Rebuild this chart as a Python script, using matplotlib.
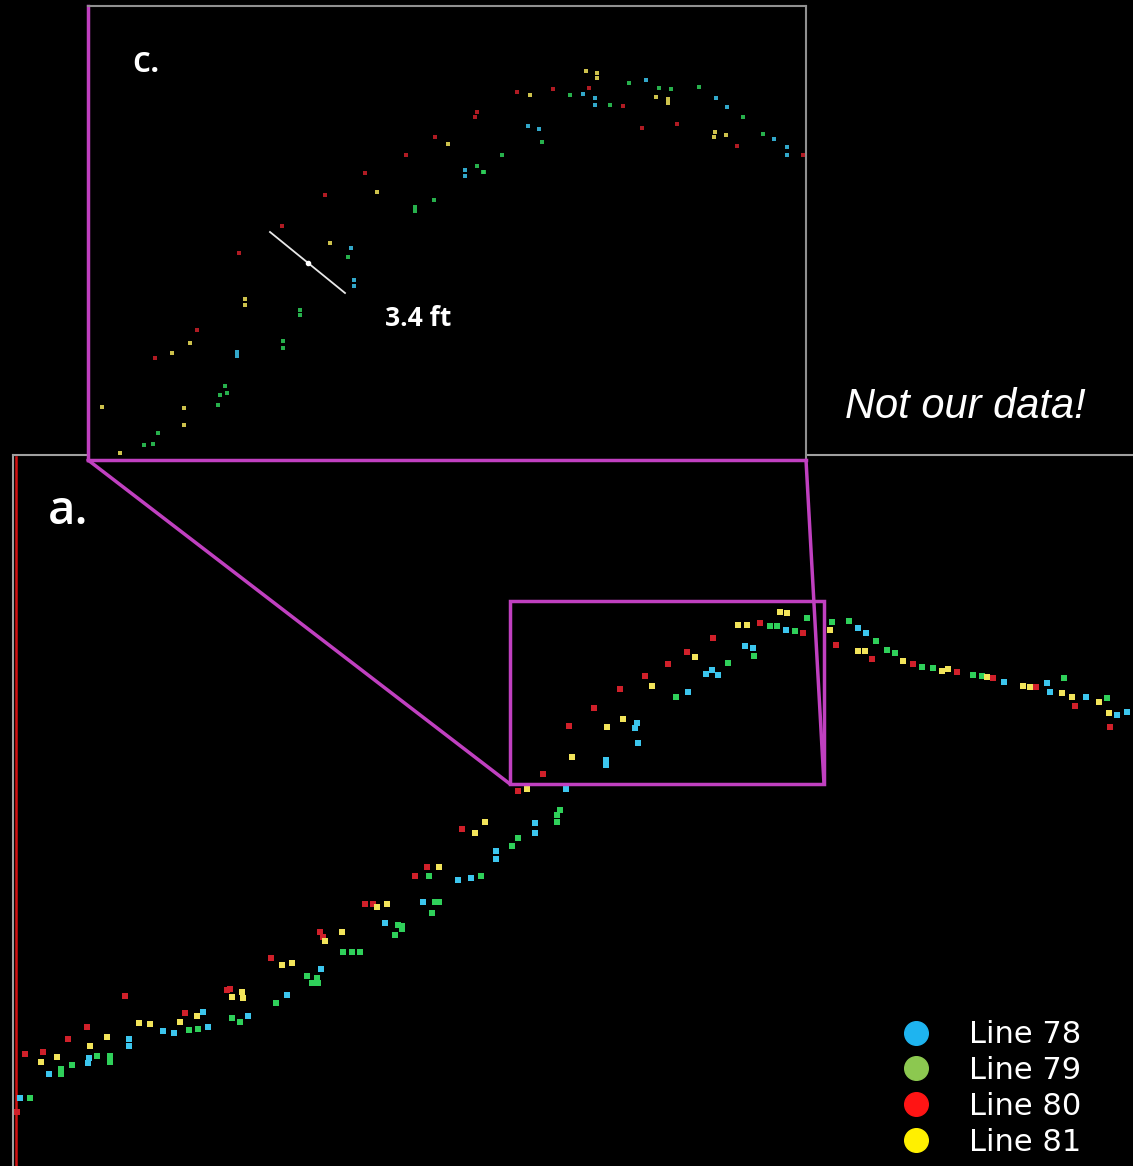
import matplotlib.pyplot as plt
from matplotlib.lines import Line2D
from matplotlib.patches import Rectangle, ConnectionPatch

# survey lines, points (x along track, y down)
lines = ['Line 78', 'Line 79', 'Line 80', 'Line 81']
dot_colors = ['#3cc6ee', '#2fd05a', '#d0202a', '#f2e45a']
legend_colors = ['#1eb4f0', '#8cc850', '#ff1414', '#fff000']

# panel a
a_78 = [(20, 1098), (49, 1074), (89, 1058), (88, 1063), (129, 1039), (129, 1046), (163, 1031),
        (174, 1033), (208, 1027), (203, 1012), (248, 1016), (287, 995), (321, 969), (385, 923),
        (423, 902), (458, 880), (471, 878), (496, 851), (496, 859), (535, 823), (535, 833),
        (566, 789), (606, 760), (606, 765), (637, 723), (635, 728), (638, 743), (688, 692),
        (706, 674), (712, 670), (718, 675), (745, 646), (753, 648), (786, 630), (858, 628),
        (866, 633), (1004, 682), (1047, 683), (1050, 692), (1086, 697), (1117, 715), (1127, 712)]
a_79 = [(30, 1098), (61, 1069), (61, 1074), (72, 1065), (97, 1056), (110, 1056), (110, 1062),
        (189, 1030), (198, 1029), (232, 1018), (240, 1022), (276, 1003), (307, 976), (312, 983),
        (318, 983), (317, 978), (343, 952), (352, 952), (360, 952), (395, 935), (398, 925),
        (402, 926), (402, 929), (432, 913), (435, 902), (439, 902), (429, 876), (481, 876),
        (512, 846), (518, 838), (557, 815), (560, 810), (557, 822), (676, 697), (728, 663),
        (754, 656), (770, 626), (777, 626), (795, 631), (807, 618), (832, 622), (849, 621),
        (876, 641), (887, 650), (895, 653), (922, 667), (933, 668), (973, 675), (982, 676),
        (1064, 678), (1107, 698)]
a_80 = [(17, 1112), (25, 1054), (43, 1052), (68, 1039), (87, 1027), (125, 996), (185, 1013),
        (227, 990), (230, 989), (271, 958), (320, 932), (323, 937), (365, 904), (373, 904),
        (415, 876), (427, 867), (462, 829), (518, 791), (543, 774), (569, 726), (594, 708),
        (620, 689), (645, 676), (668, 664), (687, 652), (713, 638), (760, 623), (803, 633),
        (836, 645), (872, 659), (913, 664), (957, 672), (993, 678), (1036, 687), (1075, 706),
        (1110, 727)]
a_81 = [(41, 1062), (57, 1057), (90, 1046), (107, 1037), (139, 1023), (150, 1024), (180, 1022),
        (197, 1016), (232, 997), (242, 992), (243, 998), (282, 965), (292, 963), (325, 941),
        (342, 932), (377, 907), (387, 904), (439, 867), (475, 833), (485, 822), (527, 789),
        (572, 757), (607, 727), (623, 719), (652, 686), (695, 657), (738, 625), (747, 625),
        (780, 612), (787, 613), (830, 630), (858, 651), (865, 651), (903, 661), (942, 671),
        (948, 669), (987, 677), (1023, 686), (1030, 687), (1062, 693), (1072, 697), (1099, 702),
        (1109, 713)]

# panel c (zoomed view, other data)
c_78 = [(465, 170), (465, 176), (351, 248), (354, 280), (354, 286), (237, 352), (237, 356),
        (583, 94), (595, 98), (595, 105), (646, 80), (716, 98), (727, 107), (528, 126), (539, 129),
        (774, 139), (787, 147), (787, 155)]
c_79 = [(477, 166), (483, 172), (415, 207), (415, 211), (434, 200), (348, 257), (300, 310),
        (300, 315), (283, 341), (283, 348), (225, 386), (220, 395), (227, 393), (218, 405),
        (158, 433), (144, 445), (153, 444), (570, 95), (610, 105), (629, 83), (659, 88), (671, 89),
        (699, 87), (743, 117), (542, 142), (502, 155), (484, 172), (763, 134)]
c_80 = [(477, 112), (475, 117), (435, 137), (406, 155), (365, 173), (325, 195), (282, 226),
        (239, 253), (197, 330), (155, 358), (517, 92), (553, 89), (589, 88), (623, 106),
        (677, 124), (642, 128), (737, 146), (803, 155)]
c_81 = [(448, 144), (377, 192), (330, 243), (245, 299), (245, 305), (190, 343), (172, 353),
        (102, 407), (184, 408), (184, 425), (120, 453), (586, 71), (597, 73), (597, 78), (530, 95),
        (656, 97), (668, 99), (668, 103), (715, 132), (714, 137), (726, 135)]

zoom_box = (510, 601, 824, 784)   # x0, y0, x1, y1 in panel a
scale_bar = [(270, 232), (345, 293)]

W, H = 1133, 1166
fig = plt.figure(figsize=(W / 100, H / 100), dpi=100, facecolor='black')

ax_a = fig.add_axes([13 / W, 0, 1120 / W, 711 / H], facecolor='black')
ax_c = fig.add_axes([88 / W, (H - 460) / H, 718 / W, 454 / H], facecolor='black')

ax_a.set_xlim(13, 1133)
ax_a.set_ylim(1166, 455)
ax_c.set_xlim(88, 806)
ax_c.set_ylim(460, 6)

for pts, col in zip([a_78, a_79, a_80, a_81], dot_colors):
    ax_a.scatter([p[0] for p in pts], [p[1] for p in pts], s=22, marker='s',
                 color=col, edgecolors='none', zorder=3)
for pts, col in zip([c_78, c_79, c_80, c_81], dot_colors):
    ax_c.scatter([p[0] for p in pts], [p[1] for p in pts], s=9, marker='s',
                 color=col, edgecolors='none', alpha=0.85, zorder=3)

for ax in (ax_a, ax_c):
    ax.set_xticks([])
    ax.set_yticks([])

# borders
for s in ['right', 'bottom']:
    ax_a.spines[s].set_visible(False)
for s in ['top', 'left']:
    ax_a.spines[s].set_color('#a0a0a0')
    ax_a.spines[s].set_linewidth(1.5)
ax_a.plot([0.003, 0.003], [0, 0.997], transform=ax_a.transAxes, color='#d01010', lw=1.8)

for s in ['top', 'right']:
    ax_c.spines[s].set_color('#909090')
    ax_c.spines[s].set_linewidth(1.5)
for s in ['bottom', 'left']:
    ax_c.spines[s].set_color('#c040c0')
    ax_c.spines[s].set_linewidth(2.5)

# zoom box + connectors
x0, y0, x1, y1 = zoom_box
ax_a.add_patch(Rectangle((x0, y0), x1 - x0, y1 - y0, fill=False, ec='#c040c0', lw=2.5, zorder=4))
for xa, xc in [(x0, 0), (x1, 1)]:
    con = ConnectionPatch(xyA=(xc, 0), coordsA=ax_c.transAxes, xyB=(xa, y1), coordsB=ax_a.transData,
                          color='#c040c0', lw=2.5)
    fig.add_artist(con)

# scale bar in c
ax_c.plot([scale_bar[0][0], scale_bar[1][0]], [scale_bar[0][1], scale_bar[1][1]],
          color='#e8e8e8', lw=1.3, zorder=4)
ax_c.plot([(scale_bar[0][0] + scale_bar[1][0]) / 2], [(scale_bar[0][1] + scale_bar[1][1]) / 2],
          marker='o', ms=3, color='white', zorder=5)
ax_c.text(385, 319, '3.4 ft', color='white', fontsize=19, fontweight='bold',
          family='Open Sans', va='center', ha='left')

ax_c.text(0.062, 0.875, 'c.', transform=ax_c.transAxes, color='white', fontsize=26,
          family='Open Sans', fontweight='semibold', va='center', ha='left')
ax_a.text(0.031, 0.92, 'a.', transform=ax_a.transAxes, color='white', fontsize=34,
          family='Open Sans', fontweight='semibold', va='center', ha='left')

fig.text(845 / W, 1 - 407 / H, 'Not our data!', color='white', fontsize=30, style='italic',
         family='Liberation Sans', va='center', ha='left')

handles = [Line2D([], [], marker='o', ls='none', ms=17, color=c) for c in legend_colors]
leg = ax_a.legend(handles, lines, loc='lower right', bbox_to_anchor=(1 - 30 / 1120, -12 / 711),
                  frameon=False, fontsize=22, labelcolor='white', labelspacing=0.22,
                  handletextpad=0.75, borderaxespad=0.3)

fig.savefig('out.png', dpi=100, facecolor='black')
